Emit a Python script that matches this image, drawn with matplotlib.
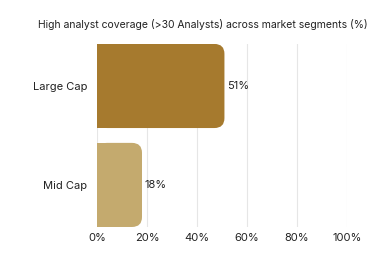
import matplotlib
matplotlib.use("Agg")
import matplotlib.pyplot as plt
from matplotlib.patches import FancyBboxPatch, Rectangle

# data
categories = ["Large Cap", "Mid Cap"]
values = [51, 18]
bar_colors = ["#A67A2E", "#C4AA6E"]
xticks = [0, 20, 40, 60, 80, 100]
title = "High analyst coverage (>30 Analysts) across market segments (%)"

plt.rcParams['font.family'] = ['Inter', 'DejaVu Sans']

fig = plt.figure(figsize=(3.82, 2.6), dpi=100)
ax = fig.add_axes([0.254, 0.127, 0.654, 0.704])

ypos = [1, 0]
h = 0.85
for y, v, c in zip(ypos, values, bar_colors):
    # rounded on the right, square on the left
    ax.add_patch(FancyBboxPatch((0, y - h / 2), v, h,
                                boxstyle="round,pad=0,rounding_size=4",
                                mutation_aspect=0.025, fc=c, ec="none", zorder=3))
    ax.add_patch(Rectangle((0, y - h / 2), v / 2, h, fc=c, ec="none", zorder=3))
    ax.text(v + 1, y, f"{v}%", va="center", ha="left", fontsize=8, color="#222222")

ax.set_xlim(0, 100)
ax.set_ylim(-h / 2, 1 + h / 2)
ax.set_yticks(ypos)
ax.set_yticklabels(categories, fontsize=8, color="#222222")
ax.set_xticks(xticks)
ax.set_xticklabels([f"{t}%" for t in xticks], fontsize=8, color="#222222")
ax.tick_params(length=0, pad=7)
ax.tick_params(axis="x", pad=4)
ax.grid(axis="x", color="#e6e6e6", lw=0.8, zorder=0)
for s in ax.spines.values():
    s.set_visible(False)

fig.text(0.53, 0.905, title, ha="center", va="center", fontsize=7.5, color="#222222")

fig.savefig("out.png", dpi=100)
